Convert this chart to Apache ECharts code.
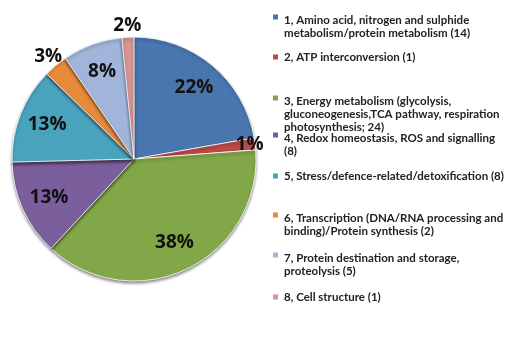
<!DOCTYPE html>
<html>
<head>
<meta charset="utf-8">
<script src="https://cdn.jsdelivr.net/npm/echarts@6/dist/echarts.min.js"></script>
<style>
  html, body { margin: 0; padding: 0; background: #fff; }
  #chart { width: 510px; height: 338px; }
</style>
</head>
<body>
<div id="chart"></div>
<script>
// categories (line breaks as in the original legend)
const categories = [
  '1, Amino acid, nitrogen and sulphide\nmetabolism/protein metabolism (14)',
  '2, ATP interconversion (1)',
  '3, Energy metabolism (glycolysis,\ngluconeogenesis,TCA pathway, respiration\nphotosynthesis; 24)',
  '4, Redox homeostasis, ROS and signalling\n(8)',
  '5, Stress/defence-related/detoxification (8)',
  '6, Transcription (DNA/RNA processing and\nbinding)/Protein synthesis (2)',
  '7, Protein destination and storage,\nproteolysis (5)',
  '8, Cell structure (1)'
];
const counts = [14, 1, 24, 8, 8, 2, 5, 1];
const percentLabels = ['22%', '1%', '38%', '13%', '13%', '3%', '8%', '2%'];

const colors = ['#4a76b0', '#bd4a47', '#82a748', '#7b5e9c', '#4aa3bd', '#e68a3c', '#a0b5d9', '#d49593'];

// layout
const CENTER = [134, 159];
const R = 122;
const legendTops = [12.5, 50.5, 93.5, 130.5, 169.5, 210.5, 250.5, 290.5];
const lineH = 13;
// which ring (fraction of radius) each percent label sits on
const labelRings = [
  { ring: 0.74, items: [0, 2, 3, 4, 6] },
  { ring: 0.93, items: [1] },
  { ring: 1.07, items: [5, 7] }
];

const legends = categories.map((name, i) => {
  const lines = name.split('\n').length;
  const h = lines * lineH;
  return {
    left: 271,
    top: legendTops[i],
    padding: 0,
    orient: 'vertical',
    data: [name],
    selectedMode: false,
    icon: lines > 1 ? 'path://M0,0h7v7h-7zM0,' + h : 'rect',
    itemWidth: 7,
    itemHeight: lines > 1 ? h : 7,
    textStyle: {
      fontFamily: 'Lato',
      fontWeight: 'bold',
      fontSize: 11.5,
      lineHeight: lineH,
      color: '#222'
    }
  };
});

const pieData = categories.map((name, i) => ({ name, value: counts[i] }));

// transparent copy of the pie whose "inside" labels land on a given ring
function labelCarrier(ring, items) {
  return {
    type: 'pie',
    center: CENTER,
    radius: R * ring * 2,
    startAngle: 90,
    silent: true,
    avoidLabelOverlap: false,
    itemStyle: { color: 'rgba(0,0,0,0)' },
    label: {
      show: true,
      position: 'inside',
      fontFamily: 'Open Sans',
      fontWeight: 'bold',
      fontSize: 19,
      color: '#111',
      formatter: p => items.indexOf(p.dataIndex) >= 0 ? percentLabels[p.dataIndex] : ''
    },
    labelLine: { show: false },
    data: pieData
  };
}

const chart = echarts.init(document.getElementById('chart'));
chart.setOption({
  color: colors,
  animation: false,
  legend: legends,
  series: [
    {
      type: 'pie',
      center: CENTER,
      radius: R,
      startAngle: 90,
      avoidLabelOverlap: false,
      itemStyle: {
        borderColor: '#fff',
        borderWidth: 0.8,
        shadowBlur: 3,
        shadowOffsetY: 2,
        shadowColor: 'rgba(0,0,0,0.45)'
      },
      label: { show: false },
      labelLine: { show: false },
      data: pieData
    }
  ].concat(labelRings.map(g => labelCarrier(g.ring, g.items)))
});
</script>
</body>
</html>
